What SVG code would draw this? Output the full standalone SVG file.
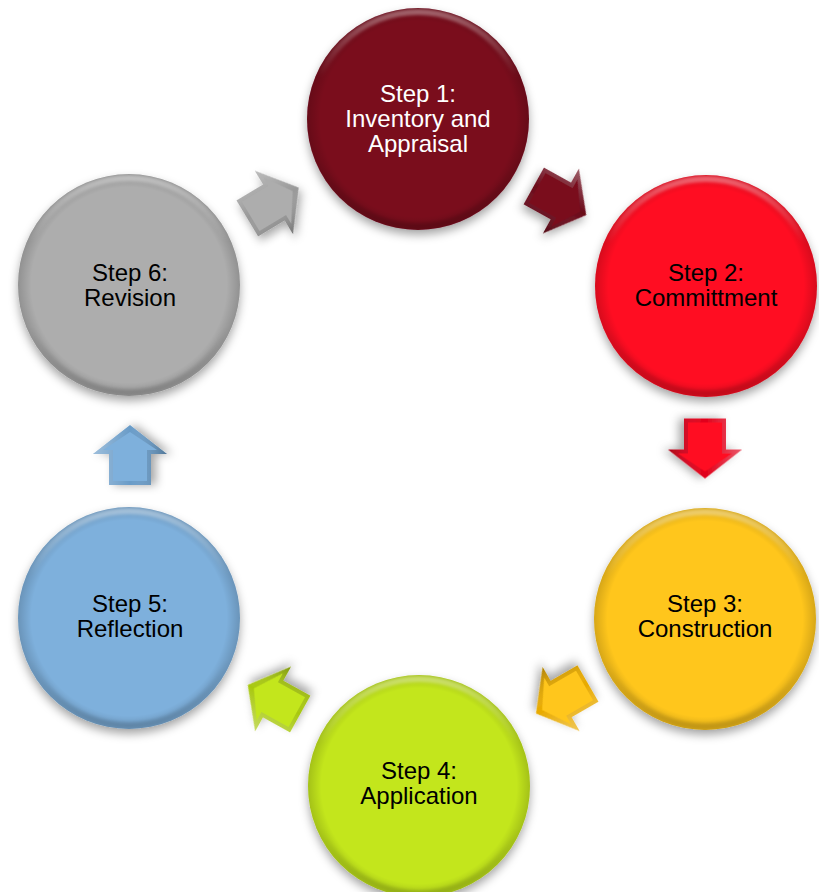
<svg xmlns="http://www.w3.org/2000/svg" width="819" height="892" viewBox="0 0 819 892">
<defs>
<filter id="shadow" x="-20%" y="-20%" width="140%" height="145%">
<feDropShadow dx="0" dy="5" stdDeviation="5" flood-color="#000" flood-opacity="0.35"/>
</filter>
<filter id="soft" x="-10%" y="-10%" width="120%" height="120%">
<feGaussianBlur stdDeviation="1.5"/>
</filter>
<radialGradient id="rim" cx="0.5" cy="0.5" r="0.5">
<stop offset="0.88" stop-color="#000" stop-opacity="0"/>
<stop offset="1" stop-color="#000" stop-opacity="0.16"/>
</radialGradient>
<linearGradient id="hl" x1="0" y1="0" x2="0" y2="1">
<stop offset="0" stop-color="#fff" stop-opacity="0.35"/>
<stop offset="0.3" stop-color="#fff" stop-opacity="0"/>
<stop offset="0.7" stop-color="#000" stop-opacity="0"/>
<stop offset="1" stop-color="#000" stop-opacity="0.14"/>
</linearGradient>
<linearGradient id="afacet" x1="0" y1="0" x2="0" y2="1">
<stop offset="0" stop-color="#fff" stop-opacity="0.35"/>
<stop offset="0.5" stop-color="#fff" stop-opacity="0"/>
<stop offset="1" stop-color="#000" stop-opacity="0.25"/>
</linearGradient>
<path id="arrow" d="M-30,-21 L1,-21 L1,-37 L30,0 L1,37 L1,21 L-30,21 Z"/>
<path id="arrowIn" d="M-26,-17 L5,-17 L5,-27 L23,0 L5,27 L5,17 L-26,17 Z"/>
</defs>
<style>
text { font-family: "Liberation Sans", Arial, sans-serif; font-size: 24px; text-anchor: middle; }
.dark { fill: #000; }
.light { fill: #fff; }
.rim { fill: url(#rim); }
.hl { fill: none; stroke: url(#hl); stroke-width: 6; filter: url(#soft); }
.afacet { fill: url(#afacet); }
</style>
<rect width="819" height="892" fill="#fff"/>

<g id="connectors">
<g transform="translate(560,200.5) rotate(29)" filter="url(#shadow)">
<use href="#arrow" fill="#6a0818"/><use href="#arrow" class="afacet"/><use href="#arrowIn" fill="#7A0A1E"/>
</g>
<g transform="translate(705,448.5) rotate(90)" filter="url(#shadow)">
<use href="#arrow" fill="#e0001a"/><use href="#arrow" class="afacet"/><use href="#arrowIn" fill="#FF0A20"/>
</g>
<g transform="translate(562,698.5) rotate(150)" filter="url(#shadow)">
<use href="#arrow" fill="#e8aa00"/><use href="#arrow" class="afacet"/><use href="#arrowIn" fill="#FFC61A"/>
</g>
<g transform="translate(274,699.5) rotate(209)" filter="url(#shadow)">
<use href="#arrow" fill="#a8c810"/><use href="#arrow" class="afacet"/><use href="#arrowIn" fill="#C3E61A"/>
</g>
<g transform="translate(130,455) rotate(-90)" filter="url(#shadow)">
<use href="#arrow" fill="#6a9cc8"/><use href="#arrow" class="afacet"/><use href="#arrowIn" fill="#7EB0DC"/>
</g>
<g transform="translate(273,203) rotate(-31)" filter="url(#shadow)">
<use href="#arrow" fill="#999"/><use href="#arrow" class="afacet"/><use href="#arrowIn" fill="#ADADAD"/>
</g>
</g>

<g id="step1">
<circle cx="418" cy="119" r="111" fill="#7A0A1E" filter="url(#shadow)"/>
<circle cx="418" cy="119" r="111" class="rim"/>
<circle cx="418" cy="119" r="107" class="hl"/>
<text class="light" x="418" y="102">Step 1:</text>
<text class="light" x="418" y="127">Inventory and</text>
<text class="light" x="418" y="152">Appraisal</text>
</g>

<g id="step2">
<circle cx="706" cy="286" r="111" fill="#FF0A20" filter="url(#shadow)"/>
<circle cx="706" cy="286" r="111" class="rim"/>
<circle cx="706" cy="286" r="107" class="hl"/>
<text class="dark" x="706" y="281">Step 2:</text>
<text class="dark" x="706" y="306">Committment</text>
</g>

<g id="step3">
<circle cx="705" cy="619" r="111" fill="#FFC61A" filter="url(#shadow)"/>
<circle cx="705" cy="619" r="111" class="rim"/>
<circle cx="705" cy="619" r="107" class="hl"/>
<text class="dark" x="705" y="612">Step 3:</text>
<text class="dark" x="705" y="637">Construction</text>
</g>

<g id="step4">
<circle cx="419" cy="786" r="111" fill="#C3E61A" filter="url(#shadow)"/>
<circle cx="419" cy="786" r="111" class="rim"/>
<circle cx="419" cy="786" r="107" class="hl"/>
<text class="dark" x="419" y="779">Step 4:</text>
<text class="dark" x="419" y="804">Application</text>
</g>

<g id="step5">
<circle cx="129" cy="618" r="111" fill="#7EB0DC" filter="url(#shadow)"/>
<circle cx="129" cy="618" r="111" class="rim"/>
<circle cx="129" cy="618" r="107" class="hl"/>
<text class="dark" x="130" y="612">Step 5:</text>
<text class="dark" x="130" y="637">Reflection</text>
</g>

<g id="step6">
<circle cx="129" cy="285" r="111" fill="#ADADAD" filter="url(#shadow)"/>
<circle cx="129" cy="285" r="111" class="rim"/>
<circle cx="129" cy="285" r="107" class="hl"/>
<text class="dark" x="130" y="281">Step 6:</text>
<text class="dark" x="130" y="306">Revision</text>
</g>
</svg>
